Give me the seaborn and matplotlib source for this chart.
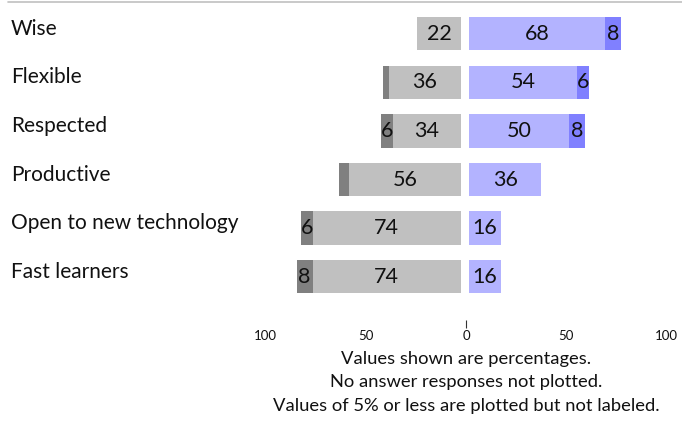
import numpy as np
import pandas as pd
import matplotlib
matplotlib.use("Agg")
import matplotlib.pyplot as plt
from matplotlib.lines import Line2D
from matplotlib.transforms import blended_transform_factory
import seaborn as sns

# data (percentages)
items = ["Wise", "Flexible", "Respected", "Productive",
         "Open to new technology", "Fast learners"]
disagree = [22, 36, 34, 56, 74, 74]          # light gray
strongly_disagree = [0, 3, 6, 5, 6, 8]       # dark gray
agree = [68, 54, 50, 36, 16, 16]             # light blue
strongly_agree = [8, 6, 8, 0, 0, 0]          # dark blue

notes = ["Values shown are percentages.",
         "No answer responses not plotted.",
         "Values of 5% or less are plotted but not labeled."]

c_lgray, c_dgray = "#c0c0c0", "#808080"
c_lblue, c_dblue = "#b3b3ff", "#8080ff"

gap_l, gap_r = 2.5, 1.5

df = pd.DataFrame({"item": items,
                   "dis": disagree, "sdis": strongly_disagree,
                   "agr": agree, "sagr": strongly_agree})

sns.set_style("white")
plt.rcParams["font.family"] = ["Lato", "DejaVu Sans"]

fig = plt.figure(figsize=(6.82, 4.21), dpi=100)
ax = fig.add_axes([265.5 / 682, (421 - 301) / 421, 401 / 682, 291.6 / 421])

bw = 0.686
dis = df["dis"].to_numpy(float)
agr = df["agr"].to_numpy(float)

common = dict(y="item", orient="h", width=bw, linewidth=0, saturation=1, ax=ax)
sns.barplot(data=df.assign(v=-df["dis"]), x="v", color=c_lgray, left=-gap_l, **common)
sns.barplot(data=df.assign(v=-df["sdis"]), x="v", color=c_dgray, left=-gap_l - dis, **common)
sns.barplot(data=df, x="agr", color=c_lblue, left=gap_r, **common)
sns.barplot(data=df, x="sagr", color=c_dblue, left=gap_r + agr, **common)

# segment labels (only values above 5)
for i, row in df.iterrows():
    segs = [(-gap_l - row.dis / 2, row.dis),
            (-gap_l - row.dis - row.sdis / 2, row.sdis),
            (gap_r + row.agr / 2, row.agr),
            (gap_r + row.agr + row.sagr / 2, row.sagr)]
    for xc, v in segs:
        if v > 5:
            ax.text(xc, i, f"{v:g}", ha="center", va="center",
                    fontsize=15.5, color="#111111")

ax.set_xlim(-100, 100)
ax.set_ylim(len(items) - 0.5, -0.5)
ax.set_xlabel("")
ax.set_ylabel("")
for s in ax.spines.values():
    s.set_visible(False)

# x axis: labels as absolute values, small tick only at zero
ax.spines["bottom"].set_position(("outward", 13.7))
ax.set_xticks([-100, -50, 0, 50, 100])
ax.set_xticklabels(["100", "50", "0", "50", "100"])
ax.set_xticks([0], minor=True)
ax.xaxis.remove_overlapping_locs = False
ax.tick_params(axis="x", which="major", length=0, pad=7, labelsize=9.5,
               labelcolor="#111111")
ax.tick_params(axis="x", which="minor", length=5.5, width=0.8, color="#333333",
               direction="out", bottom=True)

# category labels on the left, left aligned
ax.set_yticks([])
tr = blended_transform_factory(fig.transFigure, ax.transData)
for i, name in enumerate(items):
    ax.text(11 / 682, i - 0.1, name, transform=tr, ha="left", va="center",
            fontsize=15, color="#111111")

# notes below the axis, centred on zero
for k, t in enumerate(notes):
    fig.text(466 / 682, 1 - (359 + 23.5 * k) / 421, t, ha="center", va="center",
             fontsize=13.2, color="#111111")

# thin gray rule at the top
fig.add_artist(Line2D([8 / 682, 1], [1 - 1.5 / 421] * 2, color="#c0c0c0", lw=1.2,
                      transform=fig.transFigure))

fig.savefig("out.png", dpi=100)
